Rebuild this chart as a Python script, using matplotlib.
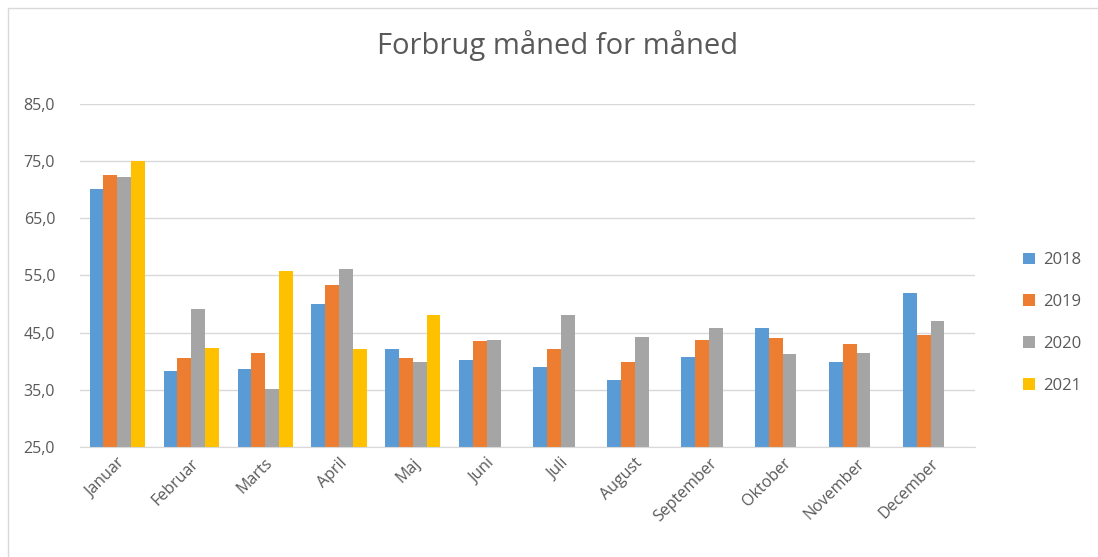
import numpy as np
import matplotlib.pyplot as plt
from matplotlib.patches import Rectangle

plt.rcParams['font.family'] = ['Open Sans', 'DejaVu Sans']

months = ['Januar', 'Februar', 'Marts', 'April', 'Maj', 'Juni', 'Juli',
          'August', 'September', 'Oktober', 'November', 'December']
y2018 = [70.1, 38.3, 38.6, 50.0, 42.1, 40.2, 39.0, 36.7, 40.8, 45.9, 39.9, 51.9]
y2019 = [72.6, 40.5, 41.5, 53.3, 40.5, 43.5, 42.1, 39.9, 43.7, 44.0, 43.0, 44.6]
y2020 = [72.3, 49.1, 35.1, 56.1, 39.9, 43.7, 48.1, 44.3, 45.9, 41.2, 41.5, 47.1]
y2021 = [75.0, 42.4, 55.7, 42.1, 48.1]
years = ['2018', '2019', '2020', '2021']
colors = ['#5b9bd5', '#ed7d31', '#a5a5a5', '#ffc000']

fig = plt.figure(figsize=(10.98, 5.57), dpi=100)
ax = fig.add_axes([0.073, 0.1975, 0.815, 0.6158])

x = np.arange(len(months))
w = 0.186
series = [y2018, y2019, y2020, y2021]
for i, (vals, lab, c) in enumerate(zip(series, years, colors)):
    xs = x[:len(vals)] + (i - 1.5) * w
    ax.bar(xs, np.array(vals) - 25, bottom=25, width=w, color=c, label=lab)

ax.set_ylim(25, 85)
ax.set_xlim(-0.5, 11.6)
ax.set_yticks(np.arange(25, 86, 10))
ax.set_yticklabels([f'{v},0' for v in range(25, 86, 10)])
ax.set_xticks(x)
ax.set_xticklabels(months, rotation=45, ha='right', rotation_mode='anchor')
ax.tick_params(length=0, colors='#595959', labelsize=11.5)
ax.tick_params(axis='y', pad=18)
ax.tick_params(axis='x', pad=6)
ax.grid(axis='y', color='#d9d9d9', linewidth=1)
ax.set_axisbelow(True)
for s in ['top', 'right', 'left']:
    ax.spines[s].set_visible(False)
ax.spines['bottom'].set_color('#d9d9d9')

fig.text(0.508, 0.919, 'Forbrug måned for måned', ha='center', va='center',
         fontsize=21, color='#595959')

fig.legend(loc='center left', bbox_to_anchor=(0.918, 0.42), frameon=False,
           fontsize=12, labelspacing=1.55, handlelength=0.7, handleheight=0.7,
           handletextpad=0.5, labelcolor='#595959')

fig.patches.append(Rectangle((0.007, -0.01), 1.0, 0.995, transform=fig.transFigure,
                             fill=False, edgecolor='#d9d9d9', linewidth=1))

fig.savefig('out.png', dpi=100)
